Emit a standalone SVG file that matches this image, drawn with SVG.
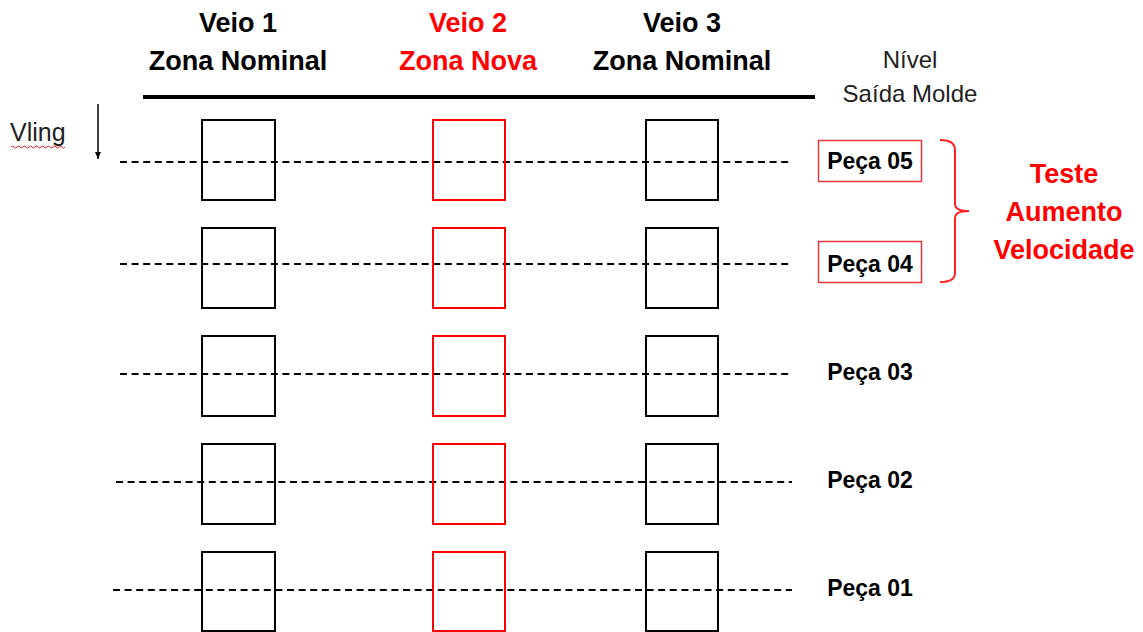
<svg xmlns="http://www.w3.org/2000/svg" width="1143" height="632" viewBox="0 0 1143 632">
<style>
.hd{font-family:"Liberation Sans",Arial,sans-serif;font-weight:bold;font-size:27px;text-anchor:middle}
.lb{font-family:"Liberation Sans",Arial,sans-serif;font-weight:bold;font-size:23px;text-anchor:middle;fill:#000}
.rg{font-family:"Liberation Sans",Arial,sans-serif;font-size:24px;fill:#222}
.bk{fill:none;stroke:#000;stroke-width:2}
.rd{fill:none;stroke:#FF0000;stroke-width:2}
.dash{fill:none;stroke:#000;stroke-width:2;stroke-dasharray:7 4.6}
.pb{fill:none;stroke:#E8383D;stroke-width:1.5}
.red{fill:#FF0000}
</style>
<defs>
<marker id="ah" markerWidth="8" markerHeight="8" refX="7" refY="4" orient="auto" markerUnits="userSpaceOnUse">
<path d="M0,1 L7,4 L0,7 Z" fill="#000"/>
</marker>
</defs>
<rect width="1143" height="632" fill="#fff"/>

<g id="headers">
<text class="hd" x="238" y="32" fill="#000">Veio 1</text>
<text class="hd" x="238" y="70" fill="#000">Zona Nominal</text>
<text class="hd red" x="468" y="32">Veio 2</text>
<text class="hd red" x="468" y="70">Zona Nova</text>
<text class="hd" x="682" y="32" fill="#000">Veio 3</text>
<text class="hd" x="682" y="70" fill="#000">Zona Nominal</text>
<text class="rg" x="910" y="68" text-anchor="middle">Nível</text>
<text class="rg" x="910" y="102" text-anchor="middle">Saída Molde</text>
<line x1="143" y1="97" x2="815" y2="97" stroke="#000" stroke-width="4"/>
</g>

<g id="vling">
<text class="rg" x="10" y="141" style="font-size:25px">Vling</text>
<path d="M11,147 q1.5,-2 3,0 t3,0 t3,0 t3,0 t3,0 t3,0 t3,0 t3,0 t3,0 t3,0 t3,0 t3,0 t3,0 t3,0 t3,0 t3,0 t3,0 t3,0" fill="none" stroke="#E02020" stroke-width="1"/>
</g>

<g id="connectors">
<line x1="98" y1="104" x2="98" y2="159" stroke="#000" stroke-width="1.5" marker-end="url(#ah)"/>
<line class="dash" x1="120" y1="162" x2="792" y2="162"/>
<line class="dash" x1="120" y1="264" x2="792" y2="264"/>
<line class="dash" x1="120" y1="374" x2="792" y2="374"/>
<line class="dash" x1="116" y1="482" x2="792" y2="482"/>
<line class="dash" x1="113" y1="590" x2="792" y2="590"/>
</g>

<g id="row5">
<rect class="bk" x="202" y="120" width="73" height="80"/>
<rect class="rd" x="433" y="120" width="72" height="80"/>
<rect class="bk" x="646" y="120" width="72" height="80"/>
</g>
<g id="row4">
<rect class="bk" x="202" y="228" width="73" height="80"/>
<rect class="rd" x="433" y="228" width="72" height="80"/>
<rect class="bk" x="646" y="228" width="72" height="80"/>
</g>
<g id="row3">
<rect class="bk" x="202" y="336" width="73" height="80"/>
<rect class="rd" x="433" y="336" width="72" height="80"/>
<rect class="bk" x="646" y="336" width="72" height="80"/>
</g>
<g id="row2">
<rect class="bk" x="202" y="444" width="73" height="80"/>
<rect class="rd" x="433" y="444" width="72" height="80"/>
<rect class="bk" x="646" y="444" width="72" height="80"/>
</g>
<g id="row1">
<rect class="bk" x="202" y="552" width="73" height="79"/>
<rect class="rd" x="433" y="552" width="72" height="79"/>
<rect class="bk" x="646" y="552" width="72" height="79"/>
</g>

<g id="peca05">
<rect class="pb" x="818.5" y="140.5" width="103" height="41"/>
<text class="lb" x="870" y="169">Peça 05</text>
</g>
<g id="peca04">
<rect class="pb" x="818.5" y="241.5" width="103" height="41"/>
<text class="lb" x="870" y="272">Peça 04</text>
</g>
<g id="peca03"><text class="lb" x="870" y="380">Peça 03</text></g>
<g id="peca02"><text class="lb" x="870" y="488">Peça 02</text></g>
<g id="peca01"><text class="lb" x="870" y="596">Peça 01</text></g>

<g id="bracket">
<path d="M940,140 Q955,140 955,150 L955,204 Q955,211 969,211 Q955,211 955,218 L955,273 Q955,282 940,282" fill="none" stroke="#FF2020" stroke-width="2"/>
</g>

<g id="teste">
<text class="hd red" x="1064" y="183">Teste</text>
<text class="hd red" x="1064" y="221">Aumento</text>
<text class="hd red" x="1064" y="259">Velocidade</text>
</g>
</svg>
